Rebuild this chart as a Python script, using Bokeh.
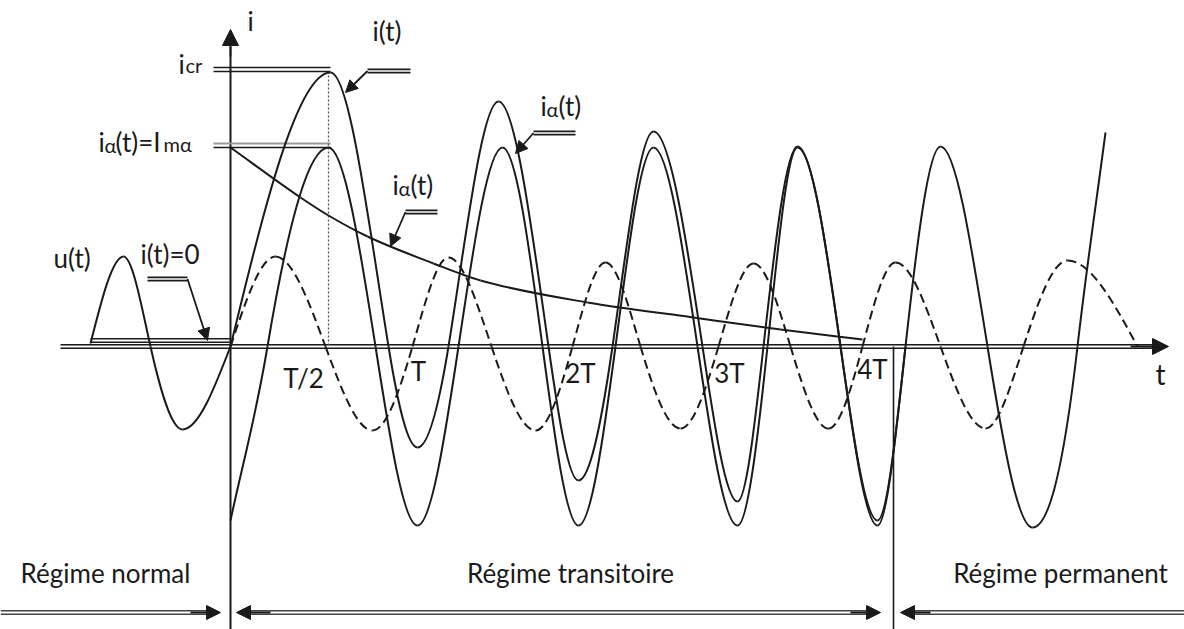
from bokeh.plotting import figure
from bokeh.models import Range1d, Arrow, NormalHead
from bokeh.embed import file_html
from bokeh.resources import INLINE
from bokeh.core.properties import value

# ---------------- data (t: time in drawing units from the fault instant, i: current/voltage units) -------------
# voltage before the fault (solid)
u_before_t = [-140, -107, -80, -48, 0]
u_before_i = [3, 90, 0, -83, 0]
# voltage after the fault (dashed)
u_after_t = [0, 45, 95, 142, 182, 218, 261, 305, 342, 375, 410, 450, 488, 523, 560, 598, 632, 665, 710, 755, 793, 837, 907]
u_after_i = [0, 90, 0, -84, 0, 89, 0, -84, 0, 84, 0, -82, 0, 83, 0, -82, 0, 84, 0, -82, 0, 86, 0]
# periodic component of the short-circuit current
ip_t = [0, 37, 98, 145, 187, 228, 272, 312, 348, 385, 423, 467, 507, 537, 567, 610, 647, 675, 710, 757, 802, 847, 875]
ip_i = [-174, 0, 199, 0, -179, 0, 199, 0, -179, 0, 199, 0, -179, 0, 199, 0, -179, 0, 200, 0, -181, 0, 214]
# total current i(t)
it_t = [0, 100, 158, 187, 218, 268, 318, 348, 382, 423, 472, 507, 533, 567, 610, 647, 675]
it_i = [0, 274, 0, -101, 0, 245, 0, -134, 0, 215, 0, -155, 0, 200, 0, -174, 0]
# aperiodic (decaying) component
ia_t = [0, 70, 98, 137, 203, 250, 357, 463, 550, 632]
ia_i = [199, 149, 131, 110, 83, 66, 44, 29, 17, 7]

i_cr = 277          # peak value of the total current
I_ma = 199          # amplitude I_mα
t_peak = 98         # instant of the peak (≈ T/2)
t_end = 663         # end of the transient regime
tick_t = [98, 182, 342, 488, 632]
tick_labels = ["T/2", "T", "2T", "3T", "4T"]
regimes = ["Régime normal", "Régime transitoire", "Régime permanent"]

# ---------------- figure ----------------
p = figure(width=1184, height=629, output_backend="svg", toolbar_location=None,
           x_range=Range1d(-230, 954), y_range=Range1d(-283, 346),
           x_axis_location=None, y_axis_location=None, min_border=0)
p.grid.visible = False
p.outline_line_color = None
p.background_fill_color = "white"

FONT = value("Lato")
INK = "#1a1a1a"
FS = 26
SUB = 20


def smooth(ts, vs, k, ks, ke, **kw):
    n = len(ts)
    sec = [(vs[j + 1] - vs[j]) / (ts[j + 1] - ts[j]) for j in range(n - 1)]
    m = []
    for j in range(n):
        if j == 0:
            m.append(sec[0] * ks)
        elif j == n - 1:
            m.append(sec[-1] * ke)
        else:
            a, b = sec[j - 1], sec[j]
            if a * b <= 0:
                m.append(0.0)
            else:
                mm = k * (a + b) / 2
                lim = 3 * min(abs(a), abs(b))
                if abs(mm) > lim:
                    mm = lim if mm > 0 else -lim
                m.append(mm)
    x0 = ts[:-1]; x1 = ts[1:]; y0 = vs[:-1]; y1 = vs[1:]
    cx0, cy0, cx1, cy1 = [], [], [], []
    for j in range(n - 1):
        dx = x1[j] - x0[j]
        cx0.append(x0[j] + dx / 3); cy0.append(y0[j] + m[j] * dx / 3)
        cx1.append(x1[j] - dx / 3); cy1.append(y1[j] - m[j + 1] * dx / 3)
    p.bezier(x0=x0, y0=y0, x1=x1, y1=y1, cx0=cx0, cy0=cy0, cx1=cx1, cy1=cy1, **kw)


def dline(xa, xb, y, gap=2.0, w=1.6, color=INK, color2=None):
    p.segment(x0=[xa], y0=[y + gap], x1=[xb], y1=[y + gap], line_color=color, line_width=w)
    p.segment(x0=[xa], y0=[y - gap], x1=[xb], y1=[y - gap], line_color=color2 or color, line_width=w)


def head(xs, ys, xe, ye, size=12):
    p.add_layout(Arrow(end=NormalHead(size=size, fill_color=INK, line_color=INK, line_width=1),
                       x_start=xs, y_start=ys, x_end=xe, y_end=ye,
                       line_color=INK, line_width=1.8))


def txt(x, y, s, size, align="left", base="alphabetic"):
    p.text(x=[x], y=[y], text=[s], text_font=FONT, text_font_size=value(f"{size}px"),
           text_align=align, text_baseline=base, text_color=INK)

# axes
dline(-170, 925, 0, gap=1.8, w=1.6)
head(900, 0, 938, 0, size=16)
p.segment(x0=[0], y0=[-290], x1=[0], y1=[300], line_color=INK, line_width=2)
head(0, 290, 0, 317, size=16)
p.segment(x0=[t_end], y0=[0], x1=[t_end], y1=[-290], line_color=INK, line_width=1.6)

# reference levels
dline(-17, t_peak + 2, i_cr, gap=2, w=1.6)
p.segment(x0=[-17], y0=[I_ma + 4], x1=[t_peak + 2], y1=[I_ma + 4], line_color="#9a9a9a", line_width=2.2)
p.segment(x0=[-17], y0=[I_ma], x1=[t_peak + 2], y1=[I_ma], line_color=INK, line_width=1.6)
p.segment(x0=[t_peak], y0=[i_cr - 2], x1=[t_peak], y1=[0], line_color="#555555", line_width=1.3, line_dash="2 2")
dline(u_before_t[0], 0, 6, gap=1.8, w=1.5)

# curves
smooth(u_before_t, u_before_i, 1.5, 1.5, 1.5, line_color=INK, line_width=2)
smooth(u_after_t, u_after_i, 1.5, 1.5, 1.5, line_color=INK, line_width=2, line_dash="9 5")
smooth(ia_t, ia_i, 1.0, 1.0, 1.0, line_color=INK, line_width=2)
smooth(ip_t, ip_i, 1.5, 1.0, 1.0, line_color=INK, line_width=2)
smooth(it_t, it_i, 1.5, 1.5, 1.5, line_color=INK, line_width=2)

# leader arrows
dline(137, 180, 275.5, gap=1.6, w=1.6)
head(137, 275.5, 115, 254, size=12)
dline(175, 207, 134.5, gap=1.6, w=1.6)
head(175, 134.5, 160, 100, size=12)
dline(303, 345, 213.5, gap=1.6, w=1.6)
head(303, 213.5, 285, 193, size=12)
dline(-83, -43, 67.5, gap=1.6, w=1.6)
head(-43, 67.5, -23, 6, size=12)

# labels
txt(20, 326, "i", FS, "center", "middle")
txt(-52, 283, "i", FS)
txt(-45, 282, "cr", SUB)
txt(-132, 205, "i", FS)
txt(-126, 202, "α", SUB)
txt(-115, 205, "(t)=I", FS)
txt(-67, 203, "mα", SUB)
txt(142, 316, "i(t)", FS)
txt(162, 162, "i", FS)
txt(168, 159, "α", SUB)
txt(180, 162, "(t)", FS)
txt(310, 241, "i", FS)
txt(316, 238, "α", SUB)
txt(328, 241, "(t)", FS)
txt(-177, 89, "u(t)", FS)
txt(-90, 93, "i(t)=0", FS)

lab_dx = [-25, 6, 8, 11, 10]
lab_y = [-31, -24, -26, -26, -22]
for tt, lb, d, yy in zip(tick_t, tick_labels, lab_dx, lab_y):
    txt(tt + d, yy, lb, FS, "center", "middle")
txt(930, -27, "t", 28, "center", "middle")

reg_t = [-125, 340, 830]
for tt, s in zip(reg_t, regimes):
    txt(tt, -226, s, FS, "center", "middle")

# regime arrows
dline(-230, -18, -266, gap=1.8, w=1.6, color="#444444")
head(-40, -266, -10, -266, size=14)
dline(14, 642, -266, gap=1.8, w=1.6, color="#444444")
head(40, -266, 6, -266, size=14)
head(620, -266, 650, -266, size=14)
dline(678, 954, -266, gap=1.8, w=1.6, color="#444444")
head(700, -266, 670, -266, size=14)

open("out.html", "w").write(file_html(p, INLINE))
